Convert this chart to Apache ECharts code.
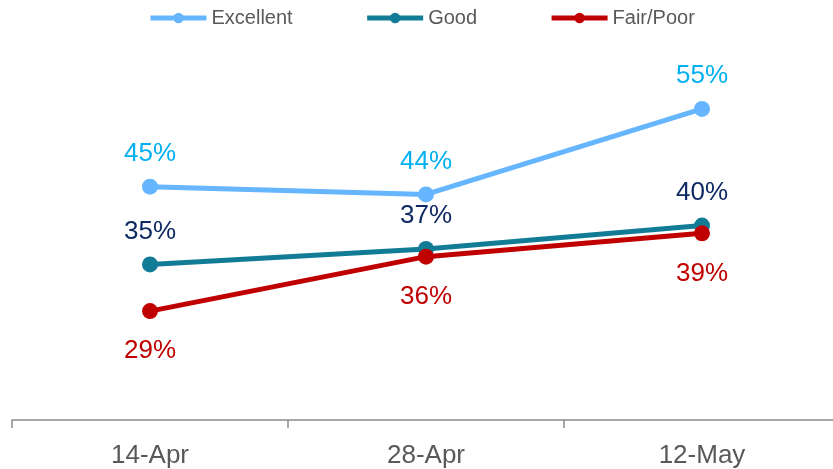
<!DOCTYPE html>
<html>
<head>
<meta charset="utf-8">
<script src="https://cdn.jsdelivr.net/npm/echarts@6/dist/echarts.min.js"></script>
<style>
html,body{margin:0;padding:0;background:#fff;overflow:hidden;}
#chart{width:841px;height:469px;}
</style>
</head>
<body>
<div id="chart"></div>
<script>
const categories = ['14-Apr', '28-Apr', '12-May'];
const excellent = [45, 44, 55];
const good = [35, 37, 40];
const fairPoor = [29, 36, 39];

const chart = echarts.init(document.getElementById('chart'), null, {renderer: 'canvas'});
const font = 'Liberation Sans, Arial, sans-serif';
function mk(name, data, lineColor, labelColor, pos, dist) {
  return {
    name: name, type: 'line', data: data,
    symbol: 'circle', symbolSize: 16,
    lineStyle: {color: lineColor, width: 5},
    itemStyle: {color: lineColor},
    label: {show: true, position: pos, distance: dist, formatter: '{c}%',
      color: labelColor, fontSize: 26, fontFamily: font},
    emphasis: {disabled: true},
    animation: false
  };
}
chart.setOption({
  animation: false,
  legend: {
    top: 3, left: 143, itemWidth: 56, itemHeight: 13, itemGap: 72,
    lineStyle: {width: 5},
    textStyle: {fontSize: 20, color: '#595959', fontFamily: font},
    data: ['Excellent', 'Good', 'Fair/Poor']
  },
  grid: {left: 12, top: 70, width: 828, bottom: 48, containLabel: false},
  xAxis: {
    type: 'category', data: categories, boundaryGap: true,
    axisLine: {lineStyle: {color: '#8c8c8c', width: 1.5}},
    axisTick: {show: true, length: 8, lineStyle: {color: '#8c8c8c', width: 1.5}},
    axisLabel: {fontSize: 26, color: '#595959', fontFamily: font, margin: 23}
  },
  yAxis: {type: 'value', min: 15, max: 60, show: false, splitLine: {show: false}},
  series: [
    mk('Excellent', excellent, '#66B5FF', '#00B0F0', 'top', 12),
    mk('Good', good, '#127C96', '#0E2A63', 'top', 12),
    mk('Fair/Poor', fairPoor, '#C00000', '#C00000', 'bottom', 19)
  ]
});
</script>
</body>
</html>
